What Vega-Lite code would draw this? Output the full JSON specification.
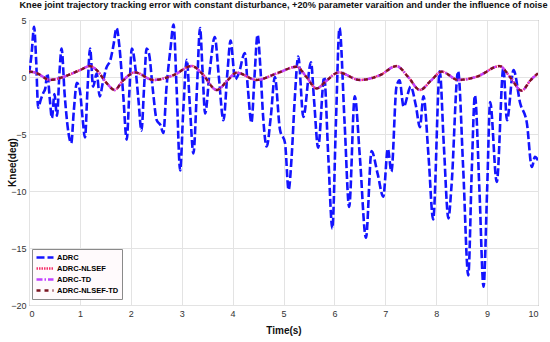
{
  "$schema": "https://vega.github.io/schema/vega-lite/v6.json",
  "width": 509,
  "height": 285,
  "autosize": {"type": "none"},
  "padding": {"left": 29, "top": 20, "right": 12, "bottom": 37},
  "background": "white",
  "title": {
    "text": "Knee joint trajectory tracking error with constant disturbance, +20% parameter varaition and under the influence of noise",
    "font": "Liberation Sans",
    "fontSize": 9.2,
    "fontWeight": "bold",
    "color": "#111111",
    "anchor": "middle",
    "offset": 6
  },
  "config": {
    "view": {"stroke": "#7a7a7a", "strokeWidth": 1},
    "axis": {
      "labelFont": "Liberation Sans",
      "titleFont": "Liberation Sans",
      "labelFontSize": 9,
      "labelColor": "#333333",
      "titleFontSize": 10,
      "titleFontWeight": "bold",
      "titleColor": "#111111",
      "gridColor": "#e3e3e3",
      "gridOpacity": 1,
      "domain": false,
      "ticks": false
    }
  },
  "datasets": {
    "err": [
      {"s": "ADRC", "t": 0.0, "v": 0.3},
      {"s": "ADRC", "t": 0.05, "v": 2.0},
      {"s": "ADRC", "t": 0.1, "v": 4.4},
      {"s": "ADRC", "t": 0.14, "v": 1.5},
      {"s": "ADRC", "t": 0.18, "v": -2.7},
      {"s": "ADRC", "t": 0.23, "v": -2.0},
      {"s": "ADRC", "t": 0.28, "v": -1.4},
      {"s": "ADRC", "t": 0.32, "v": -1.0},
      {"s": "ADRC", "t": 0.36, "v": 0.3},
      {"s": "ADRC", "t": 0.41, "v": -2.0},
      {"s": "ADRC", "t": 0.45, "v": -3.6},
      {"s": "ADRC", "t": 0.5, "v": -1.5},
      {"s": "ADRC", "t": 0.55, "v": -3.4},
      {"s": "ADRC", "t": 0.6, "v": 0.5},
      {"s": "ADRC", "t": 0.64, "v": 2.5},
      {"s": "ADRC", "t": 0.7, "v": -1.5},
      {"s": "ADRC", "t": 0.75, "v": -4.0},
      {"s": "ADRC", "t": 0.8, "v": -5.5},
      {"s": "ADRC", "t": 0.83, "v": -5.8},
      {"s": "ADRC", "t": 0.88, "v": -3.0},
      {"s": "ADRC", "t": 0.94, "v": -0.5},
      {"s": "ADRC", "t": 1.0, "v": -1.2},
      {"s": "ADRC", "t": 1.05, "v": -3.5},
      {"s": "ADRC", "t": 1.1, "v": -5.3},
      {"s": "ADRC", "t": 1.15, "v": -1.0},
      {"s": "ADRC", "t": 1.2, "v": 2.5},
      {"s": "ADRC", "t": 1.26, "v": -0.85},
      {"s": "ADRC", "t": 1.33, "v": 0.3},
      {"s": "ADRC", "t": 1.39, "v": -1.7},
      {"s": "ADRC", "t": 1.45, "v": -0.5},
      {"s": "ADRC", "t": 1.52, "v": 0.8},
      {"s": "ADRC", "t": 1.6, "v": 1.5},
      {"s": "ADRC", "t": 1.66, "v": 2.8},
      {"s": "ADRC", "t": 1.72, "v": 4.3},
      {"s": "ADRC", "t": 1.78, "v": 2.5},
      {"s": "ADRC", "t": 1.85, "v": -1.5},
      {"s": "ADRC", "t": 1.92, "v": -5.5},
      {"s": "ADRC", "t": 1.97, "v": -1.5},
      {"s": "ADRC", "t": 2.02, "v": 2.5},
      {"s": "ADRC", "t": 2.1, "v": 0.4},
      {"s": "ADRC", "t": 2.15, "v": -2.0},
      {"s": "ADRC", "t": 2.21, "v": -4.7},
      {"s": "ADRC", "t": 2.26, "v": -1.0},
      {"s": "ADRC", "t": 2.31, "v": 2.5},
      {"s": "ADRC", "t": 2.36, "v": 2.0},
      {"s": "ADRC", "t": 2.43, "v": -1.0},
      {"s": "ADRC", "t": 2.51, "v": -3.8},
      {"s": "ADRC", "t": 2.58, "v": -4.2},
      {"s": "ADRC", "t": 2.64, "v": -4.9},
      {"s": "ADRC", "t": 2.7, "v": -1.0},
      {"s": "ADRC", "t": 2.78, "v": 2.5},
      {"s": "ADRC", "t": 2.84, "v": 4.6},
      {"s": "ADRC", "t": 2.9, "v": -1.0},
      {"s": "ADRC", "t": 2.97, "v": -8.2},
      {"s": "ADRC", "t": 3.03, "v": -3.0},
      {"s": "ADRC", "t": 3.1, "v": 1.5},
      {"s": "ADRC", "t": 3.16, "v": -2.5},
      {"s": "ADRC", "t": 3.23, "v": -6.7},
      {"s": "ADRC", "t": 3.3, "v": -1.0},
      {"s": "ADRC", "t": 3.36, "v": 4.3},
      {"s": "ADRC", "t": 3.41, "v": 0.5},
      {"s": "ADRC", "t": 3.46, "v": -3.2},
      {"s": "ADRC", "t": 3.55, "v": 0.5},
      {"s": "ADRC", "t": 3.65, "v": 3.5},
      {"s": "ADRC", "t": 3.73, "v": 0.0},
      {"s": "ADRC", "t": 3.82, "v": -3.8},
      {"s": "ADRC", "t": 3.9, "v": 0.5},
      {"s": "ADRC", "t": 3.96, "v": 3.2},
      {"s": "ADRC", "t": 4.05, "v": -0.2},
      {"s": "ADRC", "t": 4.12, "v": 0.3},
      {"s": "ADRC", "t": 4.24, "v": 2.1},
      {"s": "ADRC", "t": 4.3, "v": -1.0},
      {"s": "ADRC", "t": 4.37, "v": -4.0},
      {"s": "ADRC", "t": 4.43, "v": 0.0},
      {"s": "ADRC", "t": 4.49, "v": 3.7},
      {"s": "ADRC", "t": 4.55, "v": 0.5},
      {"s": "ADRC", "t": 4.6, "v": -3.5},
      {"s": "ADRC", "t": 4.67, "v": -6.1},
      {"s": "ADRC", "t": 4.75, "v": -3.5},
      {"s": "ADRC", "t": 4.83, "v": 0.0},
      {"s": "ADRC", "t": 4.93, "v": -4.6},
      {"s": "ADRC", "t": 5.03, "v": -5.8},
      {"s": "ADRC", "t": 5.1, "v": -9.9},
      {"s": "ADRC", "t": 5.16, "v": -7.0},
      {"s": "ADRC", "t": 5.22, "v": -2.0},
      {"s": "ADRC", "t": 5.29, "v": 1.8},
      {"s": "ADRC", "t": 5.39, "v": -3.5},
      {"s": "ADRC", "t": 5.54, "v": 1.3},
      {"s": "ADRC", "t": 5.6, "v": -2.0},
      {"s": "ADRC", "t": 5.68, "v": -6.2},
      {"s": "ADRC", "t": 5.8, "v": 0.0},
      {"s": "ADRC", "t": 5.88, "v": -7.0},
      {"s": "ADRC", "t": 5.96, "v": -13.3},
      {"s": "ADRC", "t": 6.03, "v": -4.0},
      {"s": "ADRC", "t": 6.1, "v": 4.3},
      {"s": "ADRC", "t": 6.2, "v": -4.0},
      {"s": "ADRC", "t": 6.29, "v": -11.4},
      {"s": "ADRC", "t": 6.4, "v": -1.7},
      {"s": "ADRC", "t": 6.5, "v": -7.0},
      {"s": "ADRC", "t": 6.62, "v": -14.1},
      {"s": "ADRC", "t": 6.73, "v": -6.5},
      {"s": "ADRC", "t": 6.85, "v": -8.5},
      {"s": "ADRC", "t": 6.96, "v": -10.5},
      {"s": "ADRC", "t": 7.05, "v": -6.3},
      {"s": "ADRC", "t": 7.12, "v": -8.3},
      {"s": "ADRC", "t": 7.22, "v": -0.85},
      {"s": "ADRC", "t": 7.28, "v": -0.3},
      {"s": "ADRC", "t": 7.36, "v": -2.6},
      {"s": "ADRC", "t": 7.5, "v": -0.85},
      {"s": "ADRC", "t": 7.6, "v": -2.5},
      {"s": "ADRC", "t": 7.68, "v": -4.4},
      {"s": "ADRC", "t": 7.75, "v": -1.7},
      {"s": "ADRC", "t": 7.85, "v": -7.0},
      {"s": "ADRC", "t": 7.94, "v": -12.5},
      {"s": "ADRC", "t": 8.07, "v": 0.5},
      {"s": "ADRC", "t": 8.15, "v": -6.0},
      {"s": "ADRC", "t": 8.24, "v": -12.4},
      {"s": "ADRC", "t": 8.3, "v": -9.6},
      {"s": "ADRC", "t": 8.43, "v": 0.5},
      {"s": "ADRC", "t": 8.53, "v": -8.0},
      {"s": "ADRC", "t": 8.63, "v": -17.4},
      {"s": "ADRC", "t": 8.7, "v": -8.0},
      {"s": "ADRC", "t": 8.76, "v": -1.6},
      {"s": "ADRC", "t": 8.85, "v": -10.0},
      {"s": "ADRC", "t": 8.93, "v": -18.4},
      {"s": "ADRC", "t": 9.0, "v": -10.0},
      {"s": "ADRC", "t": 9.06, "v": -2.2},
      {"s": "ADRC", "t": 9.19, "v": -9.2},
      {"s": "ADRC", "t": 9.32, "v": 0.8},
      {"s": "ADRC", "t": 9.39, "v": -3.8},
      {"s": "ADRC", "t": 9.52, "v": 0.6},
      {"s": "ADRC", "t": 9.65, "v": -2.3},
      {"s": "ADRC", "t": 9.78, "v": -4.0},
      {"s": "ADRC", "t": 9.88, "v": -7.9},
      {"s": "ADRC", "t": 9.94, "v": -7.0},
      {"s": "ADRC", "t": 10.0, "v": -7.3}
    ],
    "smooth": [
      {"t": 0.0, "a": 0.5, "b": 0.5, "c": 0.5},
      {"t": 0.15, "a": 0.35, "b": 0.35, "c": 0.35},
      {"t": 0.41, "a": -0.26, "b": -0.26, "c": -0.26},
      {"t": 0.67, "a": 0.0, "b": 0.0, "c": 0.0},
      {"t": 1.0, "a": 0.6, "b": 0.6, "c": 0.6},
      {"t": 1.2, "a": 0.96, "b": 0.96, "c": 0.96},
      {"t": 1.33, "a": 0.6, "b": 0.6, "c": 0.6},
      {"t": 1.53, "a": -0.56, "b": -0.56, "c": -0.56},
      {"t": 1.68, "a": -1.14, "b": -1.14, "c": -1.14},
      {"t": 1.85, "a": -0.3, "b": -0.3, "c": -0.3},
      {"t": 2.08, "a": 0.4, "b": 0.4, "c": 0.4},
      {"t": 2.44, "a": -0.26, "b": -0.26, "c": -0.26},
      {"t": 2.84, "a": 0.17, "b": 0.17, "c": 0.17},
      {"t": 3.2, "a": 0.96, "b": 0.96, "c": 0.96},
      {"t": 3.4, "a": 0.3, "b": 0.3, "c": 0.3},
      {"t": 3.69, "a": -1.14, "b": -1.14, "c": -1.14},
      {"t": 3.9, "a": -0.3, "b": -0.3, "c": -0.3},
      {"t": 4.08, "a": 0.38, "b": 0.38, "c": 0.38},
      {"t": 4.47, "a": -0.26, "b": -0.26, "c": -0.26},
      {"t": 4.87, "a": 0.32, "b": 0.32, "c": 0.32},
      {"t": 5.26, "a": 0.9, "b": 0.9, "c": 0.9},
      {"t": 5.45, "a": 0.0, "b": 0.0, "c": 0.0},
      {"t": 5.65, "a": -1.0, "b": -1.0, "c": -1.0},
      {"t": 5.85, "a": -0.3, "b": -0.3, "c": -0.3},
      {"t": 6.08, "a": 0.4, "b": 0.4, "c": 0.4},
      {"t": 6.5, "a": -0.26, "b": -0.26, "c": -0.26},
      {"t": 6.9, "a": 0.17, "b": 0.17, "c": 0.17},
      {"t": 7.22, "a": 0.96, "b": 0.96, "c": 0.96},
      {"t": 7.45, "a": 0.0, "b": 0.0, "c": 0.0},
      {"t": 7.68, "a": -1.14, "b": -1.14, "c": -1.14},
      {"t": 7.9, "a": -0.3, "b": -0.3, "c": -0.3},
      {"t": 8.11, "a": 0.47, "b": 0.47, "c": 0.47},
      {"t": 8.43, "a": -0.26, "b": -0.26, "c": -0.26},
      {"t": 8.8, "a": 0.03, "b": 0.03, "c": 0.03},
      {"t": 9.25, "a": 0.96, "b": 0.96, "c": 0.96},
      {"t": 9.45, "a": 0.0, "b": 0.0, "c": 0.0},
      {"t": 9.68, "a": -1.2, "b": -1.2, "c": -1.2},
      {"t": 9.85, "a": -0.3, "b": -0.3, "c": -0.3},
      {"t": 10.0, "a": 0.32, "b": 0.32, "c": 0.32}
    ]
  },
  "encoding": {
    "x": {
      "field": "t", "type": "quantitative",
      "scale": {"domain": [0, 10], "nice": false, "zero": false},
      "axis": {"values": [0,1,2,3,4,5,6,7,8,9,10], "title": "Time(s)", "labelPadding": 4, "titlePadding": 7}
    },
    "y": {
      "field": "v", "type": "quantitative",
      "scale": {"domain": [-20, 5], "nice": false, "zero": false},
      "axis": {"values": [-20,-15,-10,-5,0,5], "title": "Knee(deg)", "labelPadding": 3, "titleX": -17, "titleY": 142, "titleBaseline": "middle", "titleAlign": "center", "titleAngle": -90}
    },
    "color": {
      "field": "s", "type": "nominal",
      "scale": {
        "domain": ["ADRC", "ADRC-NLSEF", "ADRC-TD", "ADRC-NLSEF-TD"],
        "range": ["#1414ff", "#f5306a", "#c040ff", "#7a1420"]
      },
      "legend": {
        "title": null,
        "orient": "none",
        "legendX": 3,
        "legendY": 229,
        "symbolType": "stroke",
        "symbolSize": 289,
        "symbolStrokeWidth": 1.5,
        "labelFont": "Liberation Sans",
        "labelFontSize": 7.5,
        "labelFontWeight": "bold",
        "labelColor": "#000000",
        "clipHeight": 11,
        "rowPadding": 0,
        "padding": 3,
        "fillColor": "#fffafc",
        "strokeColor": "#8a8a8a",
        "labelOffset": 2
      }
    },
    "strokeDash": {
      "field": "s", "type": "nominal",
      "scale": {
        "domain": ["ADRC", "ADRC-NLSEF", "ADRC-TD", "ADRC-NLSEF-TD"],
        "range": [[8, 3], [1.5, 1], [6, 2, 1.5, 2], [4, 4]]
      },
      "legend": {
        "title": null,
        "orient": "none",
        "legendX": 3,
        "legendY": 229,
        "symbolType": "stroke",
        "symbolSize": 289,
        "symbolStrokeWidth": 1.5,
        "labelFont": "Liberation Sans",
        "labelFontSize": 7.5,
        "labelFontWeight": "bold",
        "labelColor": "#000000",
        "clipHeight": 11,
        "rowPadding": 0,
        "padding": 3,
        "fillColor": "#fffafc",
        "strokeColor": "#8a8a8a",
        "labelOffset": 2
      }
    },
    "strokeWidth": {
      "field": "s", "type": "nominal",
      "scale": {
        "domain": ["ADRC", "ADRC-NLSEF", "ADRC-TD", "ADRC-NLSEF-TD"],
        "range": [2.6, 2.3, 1.2, 1.2]
      },
      "legend": null
    }
  },
  "layer": [
    {
      "data": {"name": "err"},
      "mark": {"type": "line", "interpolate": "monotone", "clip": true}
    },
    {
      "data": {"name": "smooth"},
      "transform": [
        {"fold": ["a", "b", "c"], "as": ["k", "v"]},
        {"lookup": "k", "from": {"data": {"values": [{"k": "a", "s": "ADRC-NLSEF"}, {"k": "b", "s": "ADRC-TD"}, {"k": "c", "s": "ADRC-NLSEF-TD"}]}, "key": "k", "fields": ["s"]}}
      ],
      "mark": {"type": "line", "interpolate": "monotone", "clip": true}
    }
  ]
}
